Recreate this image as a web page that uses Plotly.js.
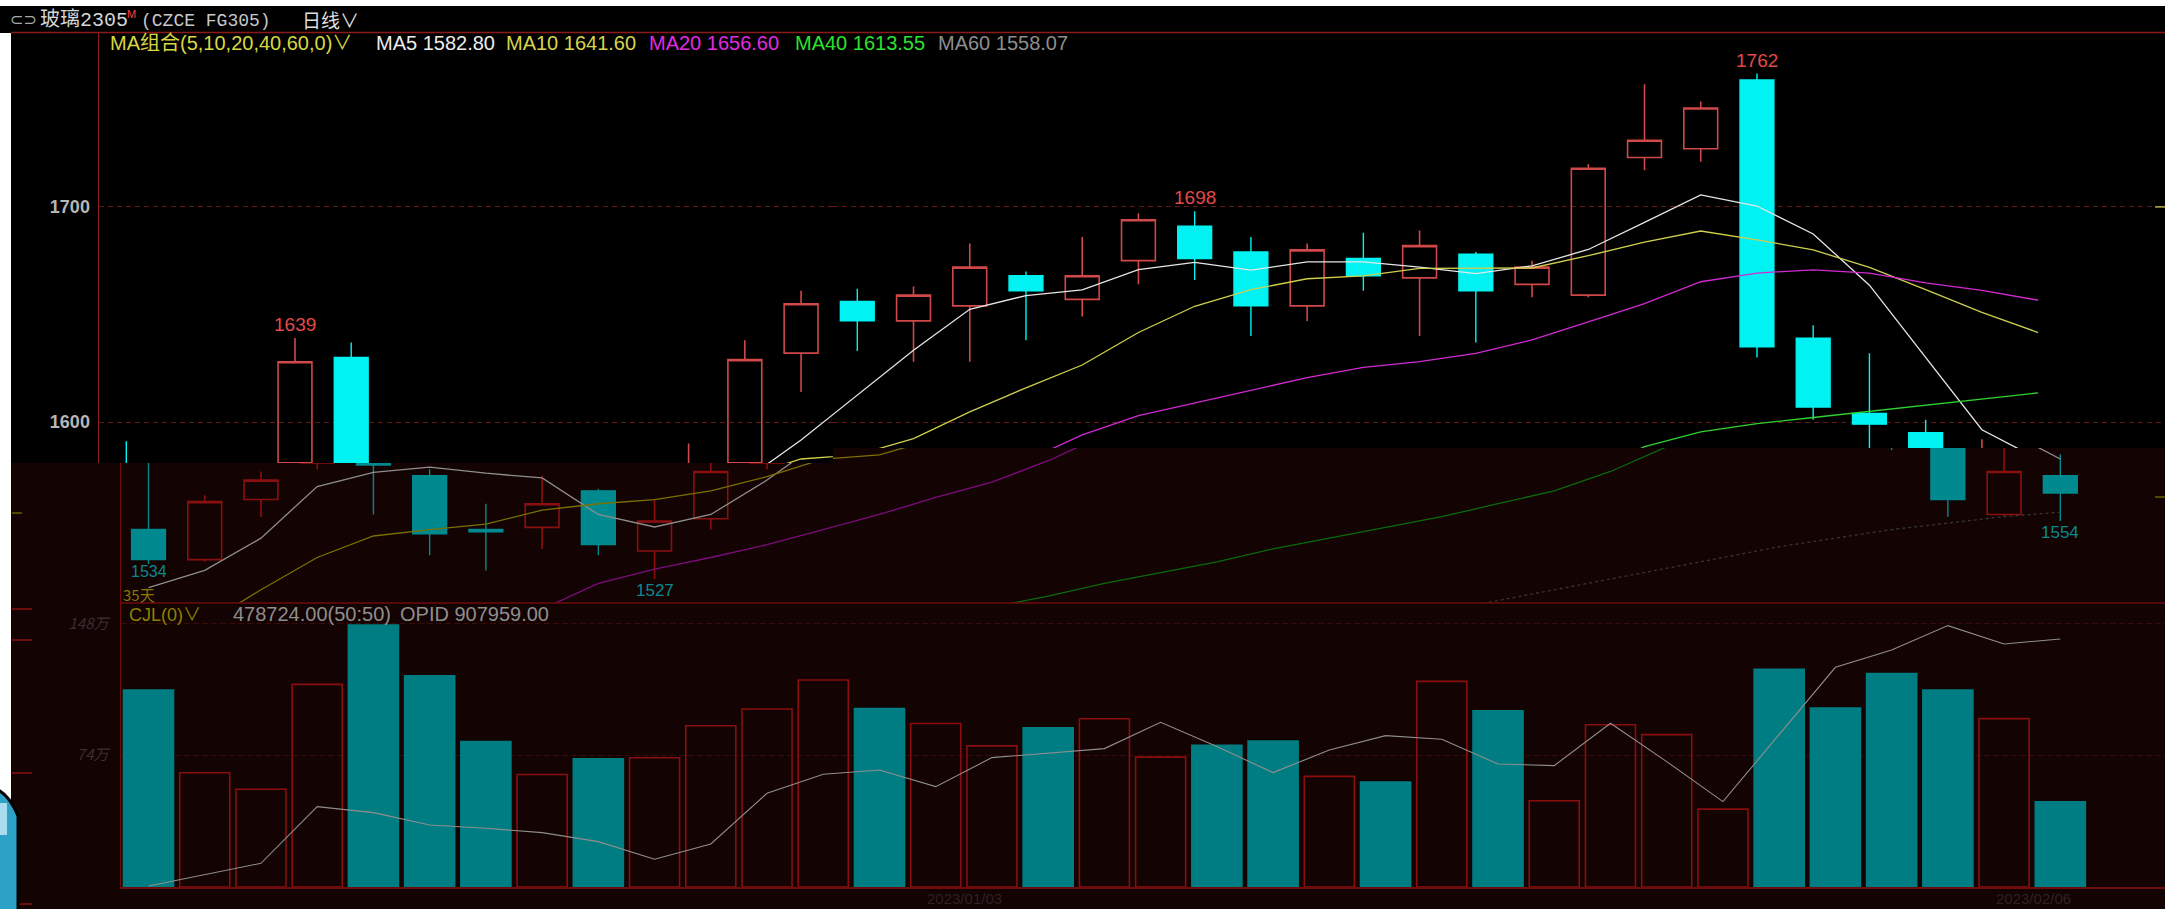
<!DOCTYPE html>
<html>
<head>
<meta charset="utf-8">
<script src="https://cdn.plot.ly/plotly-3.0.1.min.js"></script>
<style>
html,body{margin:0;padding:0;background:#000;overflow:hidden;}
#chart{width:2177px;height:909px;}
</style>
</head>
<body>
<div id="chart"></div>
<script>
// ---------------- DATA ----------------
const dates = ['2022/12/12','2022/12/13','2022/12/14','2022/12/15','2022/12/16','2022/12/19','2022/12/20','2022/12/21','2022/12/22','2022/12/23',
  '2022/12/26','2022/12/27','2022/12/28','2022/12/29','2022/12/30','2023/01/03','2023/01/04','2023/01/05','2023/01/06','2023/01/09',
  '2023/01/10','2023/01/11','2023/01/12','2023/01/13','2023/01/16','2023/01/17','2023/01/18','2023/01/19','2023/01/20','2023/01/30',
  '2023/01/31','2023/02/01','2023/02/02','2023/02/03','2023/02/06'];
const open  = [1550,1536,1564,1581,1630,1575,1550,1551,1568,1540,1555,1581,1632,1656,1647,1654,1668,1657,1675,1691,1679,1654,1676,1667,1678,1664,1659,1723,1727,1759,1639,1604,1595,1557,1575];
const high  = [1591,1566,1577,1639,1637,1578,1562,1575,1569,1564,1590,1638,1661,1662,1663,1683,1670,1686,1697,1698,1686,1683,1688,1689,1679,1675,1720,1757,1749,1762,1645,1632,1601,1592,1585];
const low   = [1534,1535,1556,1578,1557,1538,1531,1541,1538,1527,1550,1578,1614,1633,1628,1628,1638,1649,1664,1666,1640,1647,1661,1640,1637,1658,1658,1717,1721,1630,1601,1587,1556,1556,1554];
const close = [1536,1563,1573,1628,1580,1548,1549,1562,1543,1554,1577,1629,1655,1647,1659,1672,1661,1668,1694,1676,1654,1680,1668,1682,1661,1672,1718,1731,1746,1635,1607,1599,1564,1577,1567];
const ma5  = [1523,1531,1546,1570,1576.6,1579,1576.2,1574,1557,1551.2,1557,1573,1591.6,1612.4,1633.4,1652.4,1658.8,1661.4,1670.8,1674.2,1670.6,1674.4,1674.4,1672,1669,1672.6,1680.2,1692.8,1705.6,1700.4,1687.4,1663.6,1630.2,1596.4,1582.8];
const ma10 = [1492,1506,1522,1537,1547,1550,1552.5,1559,1562,1563.9,1568,1574.6,1582.8,1584.7,1592.3,1604.7,1615.9,1626.5,1641.6,1653.8,1661.5,1666.6,1667.9,1671.4,1671.6,1671.6,1677.3,1683.6,1688.8,1684.7,1680,1671.9,1661.5,1651,1641.6];
const ma20 = [null,null,null,null,null,null,1507,1513,1525,1531.6,1537,1543,1550,1557,1565,1572,1582,1594,1603,1608.85,1614.75,1620.6,1625.35,1628.05,1631.95,1638.15,1646.6,1655.05,1665.2,1669.25,1670.75,1669.25,1664.7,1661.2,1656.6];
const ma40 = [null,null,null,null,null,null,null,null,null,null,null,null,null,null,1509,1514,1519,1525,1530,1535,1541,1546,1551,1556,1562,1568,1577,1588.5,1595.4,1599.2,1602.1,1605,1607.9,1610.8,1613.55];
const ma60 = [null,null,null,null,null,null,null,null,null,null,null,null,null,null,null,null,null,null,null,null,null,null,null,1512,1517,1522,1527,1532,1537,1542,1546,1550,1553,1556,1558.07];
const vol  = [1105000,641000,549000,1137000,1470000,1186000,817000,631000,719000,725000,905000,999000,1162000,1002000,918000,792000,894000,944000,729000,795000,819000,621000,589000,1154000,989000,484000,911000,855000,437000,1222000,1004000,1198000,1105000,945000,478724];
const opid = [685700,695600,706100,757100,751700,740600,737600,733700,725600,709700,723500,769100,786200,790100,775100,801200,805100,809300,833000,811100,787700,808100,821000,817700,795500,794000,832100,797600,761600,821600,882500,898100,920000,903500,907959];
const priceTicks = [1600, 1700];
const volTicks = [740000, 1480000];
const volTickText = ['74万', '148万'];
const highMarkIdx = [3, 19, 29];
const lowMarkIdx = [0, 9, 34];
const dateLabelIdx = [15, 34];
const maNames = ['MA5','MA10','MA20','MA40','MA60'];
const maSeries = [ma5, ma10, ma20, ma40, ma60];

// ---------------- GEOMETRY / STYLE ----------------
const W = 2177, H = 909;
const px = x => x / W;
const py = y => 1 - y / H;
const XU0 = 126.3, XO0 = 148.5, DX = 56.23;     // x of first slot (upper / shifted lower), slot spacing
const Y1600 = 422, PPU = 2.151;                 // pixel of 1600 level, px per price unit
const VBASE = 887, VPX = 1.7818e-4;             // volume baseline, px per lot
const OBASE = 639, OPX = 1/900;                 // OPID mapping
const xRange = (a, b, x0) => [(a - x0) / DX, (b - x0) / DX];
const pRange = (top, bot) => [1600 - (bot - Y1600) / PPU, 1600 + (Y1600 - top) / PPU];
const dom = (a, b) => [px(a), px(b)];
const domY = (top, bot) => [py(bot), py(top)];

const G = {
  upL: {x: [99, 833],   y: [33, 463], x0: XU0},
  upR: {x: [833, 2165], y: [33, 448], x0: XU0},
  ovL: {x: [121, 833],  y: [463, 603], x0: XO0},
  ovR: {x: [833, 2165], y: [448, 603], x0: XO0},
  vol: {x: [121, 2165], y: [603, 887], x0: XO0}
};

const bright = {inc: '#d04848', dec: '#00f2f2', ma: ['#e6e6e6', '#cfcf4e', '#d22ad2', '#2fd22f', '#8c8c8c']};
const dim    = {inc: '#8a1010', dec: '#008a8f', ma: ['#8e8e8e', '#7c7000', '#7c0c7c', '#0b6a0b', '#363636']};
const BG_OV = '#130303';
const FONT = 'Liberation Sans, Arial, Noto Sans CJK SC, sans-serif';
const CJK = 'Noto Sans CJK SC, Liberation Sans, sans-serif';

// ---------------- TRACES ----------------
const traces = [];
const panels = [
  {xa: 'x',  ya: 'y',  st: bright},
  {xa: 'x2', ya: 'y2', st: bright},
  {xa: 'x3', ya: 'y3', st: dim},
  {xa: 'x4', ya: 'y4', st: dim}
];
panels.forEach(p => {
  maSeries.forEach((s, k) => {
    traces.push({type: 'scatter', mode: 'lines', x: dates, y: s, xaxis: p.xa, yaxis: p.ya,
      line: {color: p.st.ma[k], width: 1.3, dash: (p.st === dim && k === 4) ? 'dot' : 'solid'},
      hoverinfo: 'skip', showlegend: false, connectgaps: false});
  });
  traces.push({type: 'candlestick', x: dates, open: open, high: high, low: low, close: close,
    xaxis: p.xa, yaxis: p.ya, whiskerwidth: 0, hoverinfo: 'skip', showlegend: false,
    increasing: {line: {color: p.st.inc, width: 1.6}, fillcolor: 'rgba(0,0,0,0)'},
    decreasing: {line: {color: p.st.dec, width: 1.4}, fillcolor: p.st.dec}});
});
const up = close.map((c, i) => c >= open[i]);
traces.push({type: 'bar', x: dates, y: vol, xaxis: 'x5', yaxis: 'y5', hoverinfo: 'skip', showlegend: false,
  marker: {color: up.map(u => u ? 'rgba(0,0,0,0)' : '#007d83'),
           line: {color: up.map(u => u ? '#8a0e0e' : '#007d83'), width: 1.6}}});
traces.push({type: 'scatter', mode: 'lines', x: dates, y: opid, xaxis: 'x5', yaxis: 'y6',
  line: {color: '#8f8f8f', width: 1.1}, hoverinfo: 'skip', showlegend: false});

// ---------------- AXES ----------------
function xAxis(g, anchor, extra) {
  return Object.assign({domain: dom(g.x[0], g.x[1]), range: xRange(g.x[0], g.x[1], g.x0), type: 'category',
    anchor: anchor, showgrid: false, zeroline: false, showticklabels: false, ticks: '',
    rangeslider: {visible: false}, fixedrange: true, showline: false}, extra || {});
}
function yAxis(g, anchor, extra) {
  return Object.assign({domain: domY(g.y[0], g.y[1]), range: pRange(g.y[0], g.y[1]), anchor: anchor,
    showgrid: false, zeroline: false, showticklabels: false, ticks: '', fixedrange: true, showline: false}, extra || {});
}
const gridStyle = {showgrid: true, tickvals: priceTicks, gridcolor: '#641a1a', gridwidth: 1, griddash: '5px,4px'};

const layout = {
  width: W, height: H, margin: {l: 0, r: 0, t: 0, b: 0},
  paper_bgcolor: '#000000', plot_bgcolor: 'rgba(0,0,0,0)',
  showlegend: false, hovermode: false, dragmode: false,
  boxgap: 0.14, bargap: 0.11,
  xaxis:  xAxis(G.upL, 'y'),
  yaxis:  yAxis(G.upL, 'x', Object.assign({}, gridStyle, {showticklabels: true, ticklabelstandoff: 4,
            tickfont: {family: FONT, size: 18, color: '#b6b6b6', weight: 'bold'},
            showline: true, linecolor: '#8e1e1e', linewidth: 1.5})),
  xaxis2: xAxis(G.upR, 'y2'),
  yaxis2: yAxis(G.upR, 'x2', gridStyle),
  xaxis3: xAxis(G.ovL, 'y3'),
  yaxis3: yAxis(G.ovL, 'x3', {showline: true, linecolor: '#6e0c0c', linewidth: 1.5}),
  xaxis4: xAxis(G.ovR, 'y4'),
  yaxis4: yAxis(G.ovR, 'x4'),
  xaxis5: xAxis(G.vol, 'y5', {showline: true, linecolor: '#6e0c0c', linewidth: 1.5}),
  yaxis5: {domain: domY(G.vol.y[0], G.vol.y[1]), range: [0, (VBASE - G.vol.y[0]) / VPX], anchor: 'x5',
           tickvals: volTicks, ticktext: volTickText, showticklabels: true, ticks: '', ticklabelstandoff: 8,
           tickfont: {family: CJK, size: 15, color: '#3a3030', style: 'italic'},
           showgrid: true, gridcolor: '#3a0a0a', gridwidth: 1, griddash: '6px,3px', zeroline: false,
           showline: true, linecolor: '#6e0c0c', linewidth: 1.5, fixedrange: true},
  yaxis6: {domain: domY(G.vol.y[0], G.vol.y[1]), overlaying: 'y5', anchor: 'x5', visible: false,
           range: [opid[34] - (VBASE - OBASE) / OPX, opid[34] + (OBASE - G.vol.y[0]) / OPX], fixedrange: true}
};

// ---------------- SHAPES ----------------
const rectP = (x0, y0, x1, y1, color, layer) => ({type: 'rect', xref: 'paper', yref: 'paper',
  x0: px(x0), x1: px(x1), y0: py(y1), y1: py(y0), fillcolor: color, line: {width: 0}, layer: layer || 'below'});
const lineP = (x0, y0, x1, y1, color, w) => ({type: 'line', xref: 'paper', yref: 'paper',
  x0: px(x0), x1: px(x1), y0: py(y0), y1: py(y1), line: {color: color, width: w || 1.5}, layer: 'above'});
layout.shapes = [
  rectP(11, 463, 833, 909, BG_OV),
  rectP(833, 448, 2165, 909, BG_OV),
  lineP(11, 32.5, 2165, 32.5, '#8a1a1a', 1.5),
  lineP(121, 603, 2165, 603, '#6e0c0c', 1.5),
  lineP(12, 609, 32, 609, '#6e0c0c', 2),
  lineP(12, 640, 32, 640, '#6e0c0c', 2),
  lineP(12, 773, 32, 773, '#6e0c0c', 2),
  lineP(12, 904, 32, 904, '#6e0c0c', 2),
  lineP(12, 513, 22, 513, '#6a6000', 1.5),
  {type: 'line', xref: 'paper', yref: 'y2', x0: px(2155), x1: px(2165), y0: priceTicks[1], y1: priceTicks[1],
   line: {color: '#b4b444', width: 1.5}, layer: 'above'},
  lineP(2155, 497, 2165, 497, '#6a6000', 1.5),
  rectP(0, 0, W, 6, '#ffffff', 'above'),
  rectP(0, 33, 11, H, '#ffffff', 'above'),
  rectP(2165, 0, W, H, '#ffffff', 'above'),
  {type: 'path', xref: 'paper', yref: 'paper', layer: 'above', fillcolor: '#2da2c7',
   line: {color: '#000000', width: 3},
   path: `M ${px(-2)},${py(790)} Q ${px(10)},${py(796)} ${px(18)},${py(816)} L ${px(18)},${py(912)} L ${px(-2)},${py(912)} Z`},
  rectP(0, 803, 7, 835, '#a9dcee', 'above')
];

// ---------------- ANNOTATIONS ----------------
const ann = [];
const txt = (x, y, text, color, size, family, anchor) => ({xref: 'paper', yref: 'paper', x: px(x), y: py(y),
  text: text, showarrow: false, xanchor: anchor || 'left', yanchor: 'middle',
  font: {family: family || FONT, size: size, color: color}});
// title bar
ann.push(txt(8, 20, '⊂⊃', '#a8a8a8', 16, 'DejaVu Sans'));
ann.push(txt(38, 20, '玻璃2305', '#d6d6d6', 20, 'Liberation Mono, Noto Sans CJK SC'));
ann.push(txt(125, 14, 'M', '#ff3a3a', 11, FONT));
ann.push(txt(139, 21, '(CZCE FG305)', '#c8c8c8', 18, 'Liberation Mono, DejaVu Sans Mono'));
ann.push(txt(300, 20, '日线∨', '#dedede', 19, CJK));
// MA legend
ann.push(txt(108, 43, 'MA组合(5,10,20,40,60,0)∨', '#d8d840', 20, FONT));
const maLegX = [374, 504, 647, 793, 936];
const maLegC = ['#ececec', '#d6d64a', '#e02ce0', '#2ee02e', '#8e8e8e'];
maNames.forEach((n, k) => ann.push(txt(maLegX[k], 43, n + ' ' + maSeries[k][34].toFixed(2), maLegC[k], 20, FONT)));
// high / low marks
highMarkIdx.forEach(i => {
  const onLeft = XU0 + i * DX < G.upL.x[1];
  ann.push({xref: onLeft ? 'x' : 'x2', yref: onLeft ? 'y' : 'y2', x: dates[i], y: high[i], text: String(high[i]),
    showarrow: false, yanchor: 'bottom', yshift: 1, font: {family: FONT, size: 19, color: '#e04a4a'}});
});
lowMarkIdx.forEach(i => {
  const onLeft = XO0 + i * DX < G.ovL.x[1];
  ann.push({xref: onLeft ? 'x3' : 'x4', yref: onLeft ? 'y3' : 'y4', x: dates[i], y: low[i], text: String(low[i]),
    showarrow: false, yanchor: 'top', yshift: i === 0 ? 3 : 0, font: {family: FONT, size: i === 0 ? 16 : 17, color: '#0a8890'}});
});
ann.push(txt(121, 594, dates.length + '天', '#8a7800', 15, CJK));
// volume header
ann.push(txt(127, 615, 'CJL(0)∨', '#8c8200', 18, FONT));
ann.push(txt(231, 614, vol[34].toFixed(2) + '(50:50)', '#8e8e8e', 20, FONT));
ann.push(txt(398, 614, 'OPID ' + opid[34].toFixed(2), '#8e8e8e', 20, FONT));
// date labels
dateLabelIdx.forEach(i => ann.push({xref: 'x5', yref: 'paper', x: dates[i], y: py(898), text: dates[i],
  showarrow: false, xanchor: 'center', yanchor: 'middle', xshift: -27,
  font: {family: FONT, size: 15, color: '#2e2222'}}));
layout.annotations = ann;

Plotly.newPlot('chart', traces, layout, {staticPlot: true, displayModeBar: false});
</script>
</body>
</html>
